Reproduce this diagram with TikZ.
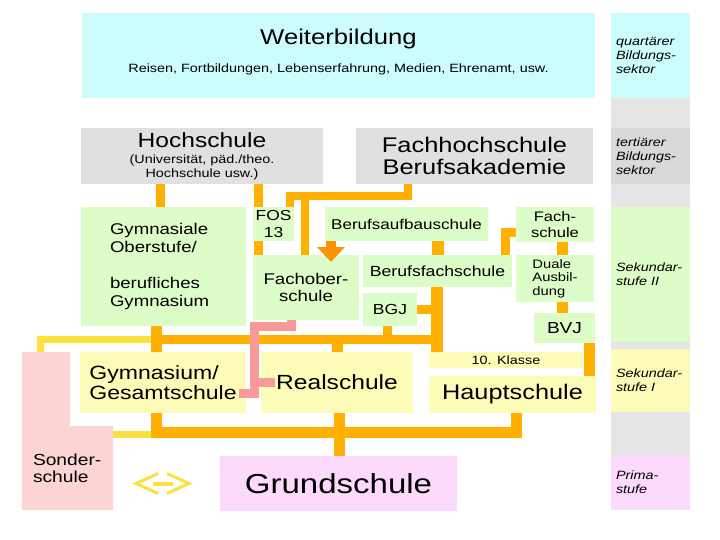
\documentclass[tikz,border=0pt]{standalone}
\usepackage{fontspec}
\setmainfont{Liberation Sans}[FakeStretch=1.2]
\usetikzlibrary{arrows.meta}
\pgfdeclarelayer{hinten}
\pgfsetlayers{hinten,main}

\definecolor{tuerkis}{HTML}{CCFCFC}
\definecolor{grau}{HTML}{E0E0E0}
\definecolor{grauhell}{HTML}{E6E6E6}
\definecolor{grauM}{HTML}{D9D9D9}
\definecolor{gruen}{HTML}{DCFCC8}
\definecolor{gelb}{HTML}{FCFCB8}
\definecolor{sonderrosa}{HTML}{FCD4D4}
\definecolor{grundrosa}{HTML}{FCDAFC}
\definecolor{orangeL}{HTML}{FFB000}
\definecolor{orangeD}{HTML}{FF9200}
\definecolor{gelbL}{HTML}{FCE040}
\definecolor{rosaL}{HTML}{F89A9A}

\newcommand{\gr}[2]{\fontsize{#1}{#2}\selectfont}

\begin{document}
\begin{tikzpicture}[x=1pt, y=-1pt,
    kasten/.style={inner sep=0pt, outer sep=0pt, align=center},
    spalte/.style={kasten, minimum width=79pt, text width=69pt, align=left, font=\gr{12}{14}\itshape},
    verbindung/.style={draw=orangeL, line width=9pt},
    gelblinie/.style={draw=gelbL, line width=7pt},
    rosalinie/.style={draw=rosaL, line width=9pt},
    pfeilbreit/.style={draw=orangeD, line width=10pt, -{Triangle[width=27pt, length=15pt]}}]
    \useasboundingbox (0,0) rectangle (720,540);

    % Bildungssektoren rechts
    \fill[grauhell] (611,98) rectangle (690,510);
    \node[spalte, fill=tuerkis, minimum height=85pt] (quartaer) at (650.5,55.5) {quartärer\\Bildungs-\\sektor};
    \node[spalte, fill=grauM, minimum height=56pt] (tertiaer) at (650.5,156) {tertiärer\\Bildungs-\\sektor};
    \node[spalte, fill=gruen, minimum height=135pt] (sek2) at (650.5,274.5) {Sekundar-\\stufe II};
    \node[spalte, fill=gelb, minimum height=63pt] (sek1) at (650.5,380.5) {Sekundar-\\stufe I};
    \node[spalte, fill=grundrosa, minimum height=55pt] (prim) at (650.5,482.5) {Prima-\\stufe};

    % Weiterbildung und Hochschulen
    \node[kasten, fill=tuerkis, minimum width=513pt, minimum height=85pt, font=\gr{12}{14}, text depth=9pt] (weiter) at (338.5,55.5)
        {{\gr{21.4}{24}Weiterbildung}\\[14pt]Reisen, Fortbildungen, Lebenserfahrung, Medien, Ehrenamt, usw.};
    \node[kasten, fill=grau, minimum width=242pt, minimum height=56pt, font=\gr{12}{14}] (hoch) at (202,156)
        {{\gr{20.5}{20}Hochschule}\\[2pt](Universität, päd./theo.\\Hochschule usw.)};
    \node[kasten, fill=grau, minimum width=237pt, minimum height=56pt, font=\gr{21.2}{22}] (fh) at (474.5,156)
        {Fachhochschule\\Berufsakademie};

    % Sekundarstufe II
    \node[kasten, fill=gruen, minimum width=165pt, minimum height=119pt, text width=107pt, align=left, font=\gr{15.5}{18}] (gymo) at (163.5,266.5)
        {Gymnasiale\\Oberstufe/\\[18pt]berufliches\\Gymnasium};
    \node[kasten, fill=gruen, minimum width=41pt, minimum height=34pt, font=\gr{14.5}{17}] (fos) at (273.5,224) {FOS\\13};
    \node[kasten, fill=gruen, minimum width=106pt, minimum height=65pt, font=\gr{15.5}{17}] (fachober) at (306,287.5) {Fachober-\\schule};
    \node[kasten, fill=gruen, minimum width=163pt, minimum height=34pt, font=\gr{14.2}{16}] (bas) at (406.5,224) {Berufsaufbauschule};
    \node[kasten, fill=gruen, minimum width=149pt, minimum height=32pt, font=\gr{14.7}{16}] (bfs) at (437.5,271) {Berufsfachschule};
    \node[kasten, fill=gruen, minimum width=54pt, minimum height=33pt, font=\gr{14.6}{16}] (bgj) at (390,309.5) {BGJ};
    \node[kasten, fill=gruen, minimum width=78pt, minimum height=35pt, font=\gr{13.8}{16}] (fachs) at (555,224.5) {Fach-\\schule};
    \node[kasten, fill=gruen, minimum width=78pt, minimum height=47pt, align=left, font=\gr{12.3}{13.5}] (duale) at (555,278.5) {Duale\\Ausbil-\\dung};
    \node[kasten, fill=gruen, minimum width=61pt, minimum height=30pt, font=\gr{15.9}{17}] (bvj) at (564.5,328) {BVJ};

    % Sekundarstufe I
    \node[kasten, fill=gelb, minimum width=154pt, minimum height=16pt, font=\gr{12}{14}] (klasse) at (506,360) {10. Klasse};
    \node[kasten, fill=gelb, minimum width=167pt, minimum height=37pt, font=\gr{21.1}{22}] (haupt) at (512.5,394.5) {Hauptschule};
    \node[kasten, fill=gelb, minimum width=166pt, minimum height=61pt, align=left, font=\gr{19.2}{20}] (gym) at (163,382.5) {Gymnasium/\\Gesamtschule};
    \node[kasten, fill=gelb, minimum width=152pt, minimum height=61pt, font=\gr{20.5}{22}] (real) at (337,382.5) {Realschule};

    % Primarstufe
    \node[kasten, fill=grundrosa, minimum width=237pt, minimum height=55pt, font=\gr{27.5}{30}] (grund) at (338.5,483.5) {Grundschule};

    % Sonderschule
    \fill[sonderrosa] (22,352) -- (70,352) -- (70,426) -- (113,426) -- (113,510) -- (22,510) -- cycle;
    \node[kasten, anchor=west, align=left, font=\gr{16}{17}] (sonder) at (33,468.5) {Sonder-\\schule};
    \coordinate (sonderoben) at (40,352);
    \coordinate (sonderrechts) at (113,434);

    % Schienen
    \coordinate (oben) at (156.5,339.5);
    \coordinate (unten) at (156.5,432);

    \begin{pgfonlayer}{hinten}
        % gelbe Linien zur Sonderschule
        \draw[gelblinie] (sonderoben) |- (oben);
        \draw[gelblinie] (sonderrechts) -- (sonderrechts -| unten);

        % Hochschule
        \draw[verbindung] ([xshift=-3.5]gymo.north) -- ([xshift=-3.5]gymo.north |- hoch.south);
        \draw[verbindung] ([xshift=5]fachober.north west) -- ([xshift=5]fachober.north west |- hoch.south);

        % Fachhochschule
        \coordinate (fhknick) at ([xshift=52,yshift=-12]fh.south west);
        \draw[verbindung, line width=8pt] ([xshift=52]fh.south west) -- (fhknick) -| ([xshift=-4]fos.north east);
        \draw[verbindung, line width=8pt] ([xshift=52]fachober.north west) |- (fhknick);

        % Berufsaufbauschule, Fachschule
        \draw[verbindung, line width=12pt] (bfs.north) -- (bfs.north |- bas.south);
        \draw[verbindung] ([yshift=-8]fachs.west) -| ([xshift=-7]bfs.north east);
        \draw[verbindung, line width=11pt] ([xshift=7]fachs.south) -- ([xshift=7]duale.north);
        \draw[verbindung, line width=11pt] ([xshift=7]duale.south) -- ([xshift=7]duale.south |- bvj.north);
        \draw[verbindung, line width=11pt] ([xshift=-5.5]bvj.south east) -- ([xshift=-5.5]bvj.south east |- haupt.north);

        % Berufsfachschule, BGJ
        \draw[verbindung, line width=12pt] ([xshift=-1]bfs.south) -- ([xshift=-1]bfs.south |- klasse.north);
        \draw[verbindung] (bgj.east) -- (bgj.east -| bfs.south);
        \draw[verbindung] ([xshift=-2.5]bgj.south) -- ([xshift=-2.5]bgj.south |- oben);

        % obere Schiene
        \draw[verbindung, line width=11pt] ([xshift=-7]gymo.south) -- ([xshift=-6.5]gym.north);
        \draw[verbindung] (oben) -- (oben -| bfs.south);
        \draw[verbindung, line width=11pt] (real.north) -- (real.north |- oben);

        % untere Schiene
        \draw[verbindung, line width=11pt] ([xshift=-6.5]gym.south) -- (unten) -| ([xshift=4]haupt.south);
        \draw[verbindung, line width=11pt] ([xshift=2]real.south) -- ([xshift=2]real.south |- grund.north);
    \end{pgfonlayer}

    % Pfeil zur Fachoberschule
    \draw[pfeilbreit] ([xshift=6]bas.south west) -- ++(0,21);

    % Fachoberschule zu Gymnasium und Realschule
    \coordinate (rknick) at (254,326);
    \draw[rosalinie] ([xshift=38]fachober.south west) |- (rknick) |- ([xshift=-7,yshift=-10.5]gym.east);
    \draw[rosalinie] (rknick |- real.west) -- ([xshift=14]real.west);

    % Doppelpfeil
    \draw[gelbL, line width=3pt] (158,473.5) -- (136,483.5) -- (158,493.5) (167,473.5) -- (189,483.5) -- (167,493.5);
    \draw[gelbL, line width=4pt] (153,483.5) -- (173,483.5);
\end{tikzpicture}
\end{document}
